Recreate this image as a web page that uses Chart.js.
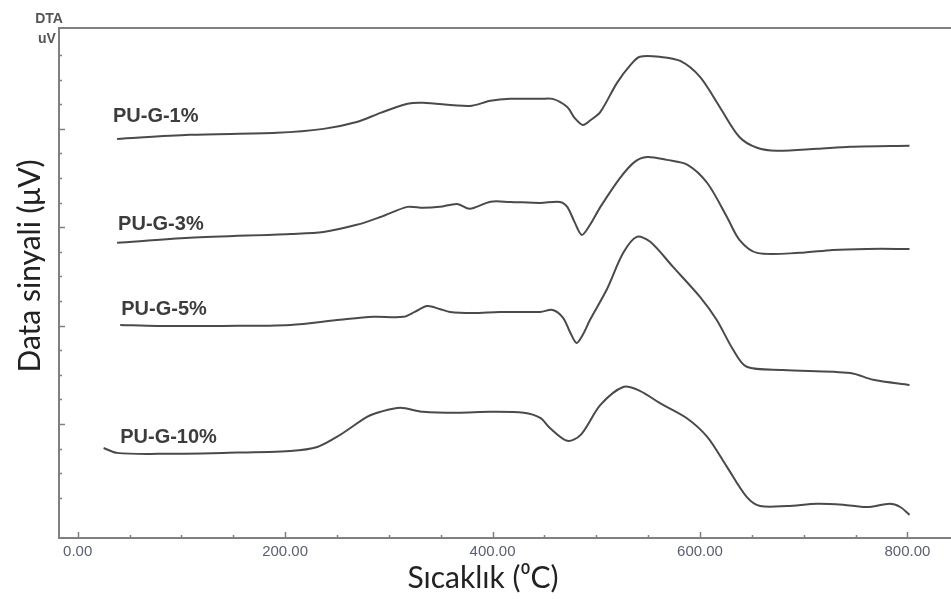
<!DOCTYPE html>
<html>
<head>
<meta charset="utf-8">
<script src="https://cdn.jsdelivr.net/npm/chart.js@4.4.1/dist/chart.umd.min.js"></script>
<style>
  html, body { margin: 0; padding: 0; background: #fff; }
  #wrap { width: 951px; height: 599px; }
</style>
</head>
<body>
<div id="wrap"><canvas id="dtaChart"></canvas></div>
<script>
// DTA curves: temperature (°C) and signal (stacked, arbitrary uV units)
const temp1 = [38, 108, 192, 237, 269, 292, 318, 333, 378, 398, 417, 446, 458, 472, 479, 487, 495, 504, 520, 533, 542, 561, 581, 600, 619, 638, 655, 674, 713, 745, 802];
const sig1  = [14.59, 14.76, 14.84, 15.00, 15.28, 15.65, 16.02, 16.06, 15.93, 16.14, 16.22, 16.22, 16.22, 15.89, 15.45, 15.16, 15.37, 15.69, 16.87, 17.60, 17.93, 17.93, 17.76, 17.11, 15.89, 14.67, 14.23, 14.11, 14.19, 14.27, 14.31];

const temp3 = [38, 108, 205, 237, 269, 292, 318, 333, 349, 366, 378, 398, 417, 446, 465, 472, 479, 486, 494, 504, 523, 537, 549, 568, 588, 607, 626, 638, 655, 696, 728, 761, 802];
const sig3  = [10.37, 10.57, 10.73, 10.81, 11.10, 11.42, 11.83, 11.79, 11.83, 11.95, 11.75, 12.04, 12.03, 11.99, 12.03, 11.83, 11.22, 10.69, 11.10, 11.83, 13.01, 13.66, 13.86, 13.74, 13.54, 12.80, 11.42, 10.49, 9.96, 9.96, 10.08, 10.12, 10.12];

const temp5 = [41, 77, 140, 205, 253, 285, 314, 325, 337, 349, 359, 381, 407, 446, 458, 468, 475, 481, 487, 494, 510, 526, 539, 552, 574, 600, 616, 632, 645, 680, 745, 767, 802];
const sig5  = [7.03, 6.99, 6.99, 7.03, 7.24, 7.36, 7.36, 7.56, 7.80, 7.68, 7.56, 7.52, 7.56, 7.56, 7.64, 7.32, 6.71, 6.30, 6.63, 7.24, 8.46, 9.96, 10.61, 10.41, 9.39, 8.17, 7.24, 6.02, 5.33, 5.20, 5.08, 4.80, 4.59];

const temp10 = [25, 38, 77, 140, 205, 231, 253, 279, 292, 311, 333, 366, 398, 430, 446, 455, 472, 485, 504, 526, 542, 561, 587, 607, 626, 645, 658, 684, 713, 738, 761, 783, 793, 802];
const sig10  = [2.03, 1.83, 1.79, 1.83, 1.91, 2.07, 2.56, 3.29, 3.50, 3.66, 3.50, 3.46, 3.50, 3.46, 3.25, 2.85, 2.32, 2.56, 3.78, 4.51, 4.35, 3.86, 3.25, 2.48, 1.26, 0.04, -0.33, -0.33, -0.24, -0.28, -0.37, -0.24, -0.37, -0.69];

const seriesNames = ['PU-G-1%', 'PU-G-3%', 'PU-G-5%', 'PU-G-10%'];
const xTickValues = [0, 200, 400, 600, 800];
const xMinorTicks = [0, 50, 100, 150, 200, 250, 300, 350, 400, 450, 500, 550, 600, 650, 700, 750, 800];
const yTicks = [0, 1, 2, 3, 4, 5, 6, 7, 8, 9, 10, 11, 12, 13, 14, 15, 16, 17, 18];
const yMajorTicks = [3, 7, 11, 15];

// where each curve name sits (data coordinates, left/baseline)
const labelSpots = [[34, 15.28], [39, 10.89], [42, 7.44], [41, 2.24]];

const toPoints = (xs, ys) => xs.map((x, i) => ({ x: x, y: ys[i] }));
const curves = [toPoints(temp1, sig1), toPoints(temp3, sig3), toPoints(temp5, sig5), toPoints(temp10, sig10)];

const frameAndText = {
  id: 'frameAndText',
  afterDraw(chart) {
    const { ctx, chartArea: a, scales: { x, y } } = chart;
    ctx.save();
    ctx.strokeStyle = '#808080';
    ctx.lineWidth = 2;
    ctx.beginPath();
    ctx.moveTo(a.right, a.top);
    ctx.lineTo(a.left, a.top);
    ctx.lineTo(a.left, a.bottom);
    ctx.lineTo(a.right, a.bottom);
    ctx.stroke();

    // inward ticks
    ctx.lineWidth = 1.5;
    ctx.beginPath();
    yTicks.forEach(v => {
      const py = Math.round(y.getPixelForValue(v)) + 0.5;
      const len = yMajorTicks.includes(v) ? 6 : 3;
      ctx.moveTo(a.left, py);
      ctx.lineTo(a.left + len, py);
    });
    xMinorTicks.forEach(v => {
      const px = Math.round(x.getPixelForValue(v)) + 0.5;
      const len = xTickValues.includes(v) ? 6 : 3;
      ctx.moveTo(px, a.bottom);
      ctx.lineTo(px, a.bottom - len);
    });
    ctx.stroke();

    // curve names
    ctx.fillStyle = '#3c3c3c';
    ctx.font = 'bold 20px "Liberation Sans", Arial, sans-serif';
    ctx.textAlign = 'left';
    ctx.textBaseline = 'alphabetic';
    seriesNames.forEach((name, i) => {
      ctx.fillText(name, x.getPixelForValue(labelSpots[i][0]), y.getPixelForValue(labelSpots[i][1]));
    });

    // unit tag top-left
    ctx.fillStyle = '#555';
    ctx.font = 'bold 14px "Liberation Sans", Arial, sans-serif';
    ctx.textAlign = 'center';
    ctx.fillText('DTA', 49, 23);
    ctx.fillText('uV', 47, 43);

    // axis titles
    ctx.fillStyle = '#222';
    ctx.font = '30px Lato, "Open Sans", sans-serif';
    ctx.fillText('Sıcaklık (\u2070C)', 483, 588);
    ctx.translate(40, 266);
    ctx.rotate(-Math.PI / 2);
    ctx.fillText('Data sinyali (\u03bcV)', 0, 0);
    ctx.restore();
  }
};

new Chart(document.getElementById('dtaChart'), {
  type: 'line',
  data: {
    datasets: curves.map((pts, i) => ({
      label: seriesNames[i],
      data: pts,
      borderColor: '#4a4a4a',
      borderWidth: 2,
      pointRadius: 0,
      tension: 0.3,
      fill: false
    }))
  },
  options: {
    responsive: true,
    maintainAspectRatio: false,
    animation: false,
    layout: { padding: { top: 28, right: 0, left: 0, bottom: 0 } },
    plugins: { legend: { display: false }, tooltip: { enabled: false } },
    scales: {
      x: {
        type: 'linear',
        min: -18,
        max: 842,
        grid: { display: false, drawTicks: false },
        border: { display: false },
        afterBuildTicks: s => { s.ticks = xTickValues.map(v => ({ value: v })); },
        afterFit: s => { s.height = 61; },
        ticks: {
          padding: 5,
          maxRotation: 0,
          color: '#5a6072',
          font: { family: '"Liberation Sans", Arial, sans-serif', size: 15 },
          callback: v => v.toFixed(2)
        }
      },
      y: {
        min: -1.63,
        max: 19.1,
        grid: { display: false, drawTicks: false },
        border: { display: false },
        ticks: { display: false },
        afterFit: s => { s.width = 59; }
      }
    }
  },
  plugins: [frameAndText]
});
</script>
</body>
</html>
